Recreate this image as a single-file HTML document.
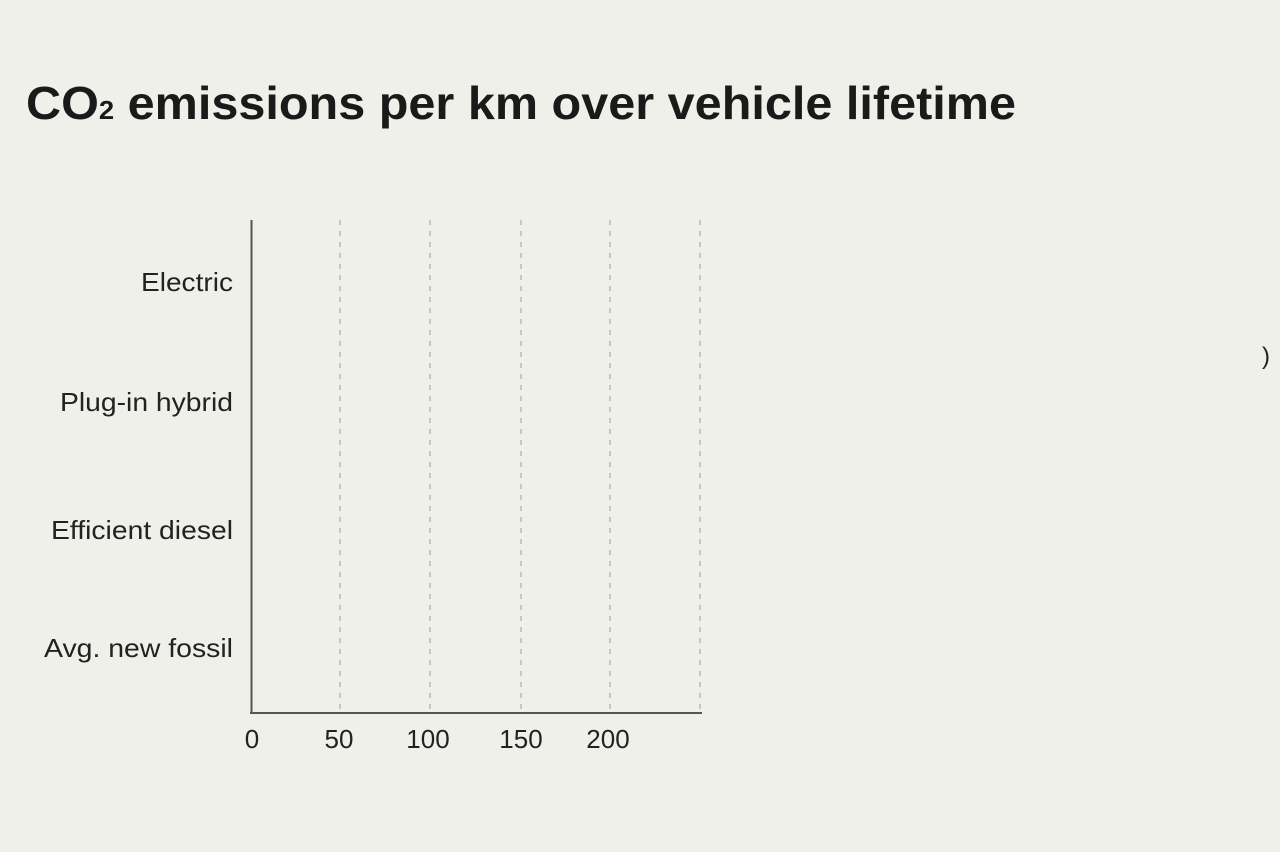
<!DOCTYPE html>
<html><head><style>
html,body{margin:0;padding:0;background:#f0f0eb;}
svg{display:block;font-family:"Liberation Sans",Arial,sans-serif;}
</style></head><body>
<svg width="1280" height="852" viewBox="0 0 1280 852">
<rect width="1280" height="852" fill="#f0f0eb"/>
<text x="26" y="119" font-size="46" font-weight="bold" fill="#1a1a1a" textLength="990" lengthAdjust="spacingAndGlyphs">CO<tspan font-size="26">2</tspan> emissions per km over vehicle lifetime</text>
<g stroke="#b0b0b0" stroke-width="1.3" stroke-dasharray="5,6">
<line x1="340" y1="220" x2="340" y2="712"/>
<line x1="430" y1="220" x2="430" y2="712"/>
<line x1="521" y1="220" x2="521" y2="712"/>
<line x1="610" y1="220" x2="610" y2="712"/>
<line x1="700" y1="220" x2="700" y2="712"/>
</g>
<line x1="251.5" y1="220" x2="251.5" y2="714" stroke="#555" stroke-width="2"/>
<line x1="250" y1="713" x2="702" y2="713" stroke="#555" stroke-width="2"/>
<g font-size="26" fill="#222" text-anchor="end">
<text x="233" y="291" textLength="92" lengthAdjust="spacingAndGlyphs">Electric</text>
<text x="233" y="411" textLength="173" lengthAdjust="spacingAndGlyphs">Plug-in hybrid</text>
<text x="233" y="539" textLength="182" lengthAdjust="spacingAndGlyphs">Efficient diesel</text>
<text x="233" y="657" textLength="189" lengthAdjust="spacingAndGlyphs">Avg. new fossil</text>
</g>
<g font-size="26" fill="#222" text-anchor="middle">
<text x="252" y="748">0</text>
<text x="339" y="748">50</text>
<text x="428" y="748">100</text>
<text x="521" y="748">150</text>
<text x="608" y="748">200</text>
</g>
<text x="1262" y="364" font-size="24" fill="#222">)</text>
</svg>
</body></html>
